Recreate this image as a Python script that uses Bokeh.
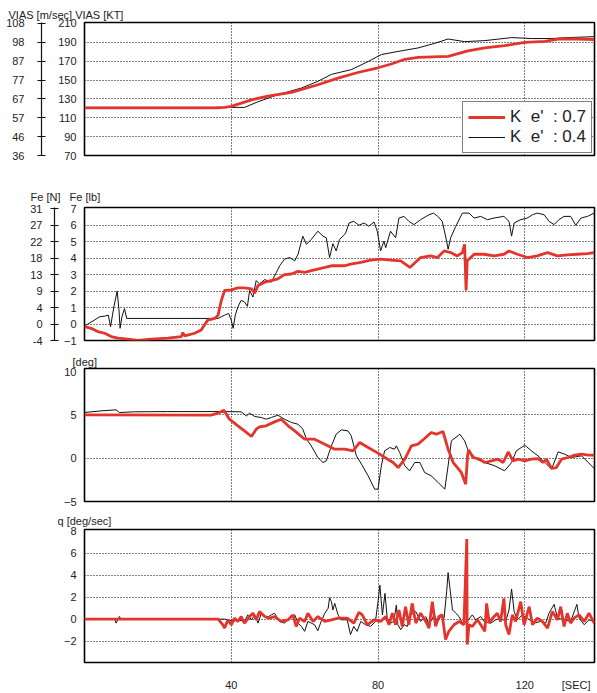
from bokeh.plotting import figure
from bokeh.layouts import column
from bokeh.models import LinearAxis, FixedTicker, Range1d, Title, Legend, LegendItem, Grid
from bokeh.embed import file_html
from bokeh.resources import INLINE

FONT = "Liberation Sans"
RED = "#e3352b"
BLACK = "#111111"
TXT = "#222222"

# ---------------- data ----------------
# Panel 1 : VIAS [KT]
VIAS_T_07 = [0, 10, 20, 30, 36, 38.2, 40, 45.5, 50, 56.4, 63.6, 69.1, 74.5, 80, 83.6, 87.3, 90.9, 99.1, 104.5, 109.1, 114.5, 120, 125.5, 129.1, 134, 139]
VIAS_KT_07 = [120.5, 120.5, 120.5, 120.5, 120.6, 121, 122, 129, 133, 137, 145, 152, 158, 163, 167, 172, 174, 175, 181, 184, 186.5, 190, 191, 193.5, 193.5, 193]
VIAS_T_04 = [0, 10, 20, 30, 38.2, 43.6, 47.3, 52.7, 59.1, 63.6, 67.3, 72.7, 77.3, 80.9, 86.4, 90.9, 95.5, 99.1, 103.6, 109.1, 116.4, 121.8, 127.3, 131.8, 139]
VIAS_KT_04 = [121, 121, 121, 121, 121, 121, 127, 134.5, 141.5, 148.6, 156, 161, 169.6, 177, 181, 184, 189, 193.5, 190.7, 191.8, 195, 194, 194, 195, 196]
VIAS_KT_TICKS = [70, 90, 110, 130, 150, 170, 190, 210]
VIAS_MS_LABELS = ["36", "46", "57", "67", "77", "87", "98", "108"]

# Panel 2 : Fe [lb]
FE_T_04 = [0, 0.9, 2.7, 4.1, 5.5, 6.5, 7.1, 8.0, 8.9, 9.4, 9.7, 10.2, 10.9, 11.5, 36.4, 37.3, 38.2, 39.3, 40.0, 40.5, 41.1, 41.8, 42.7, 43.6, 44.4, 45.0, 45.9, 46.8, 47.7, 49.1, 50.9, 52.3, 53.2, 54.5, 55.9, 57.3, 58.2, 59.5, 60.5, 61.8, 63.6, 65.0, 65.9, 66.8, 67.7, 68.6, 69.5, 70.9,
           71.2, 72.1, 73.4, 74.8, 76.2, 77.5, 78.9, 79.8, 80.7, 81.6, 82.1, 83.4, 84.8, 85.7, 87.1, 88.4, 89.8, 91.6, 93.9, 95.1, 96.3, 97.5, 98.7, 99.1, 99.8, 101.2, 103.0, 104.8, 106.2, 108.0, 109.8, 111.6, 114.3, 115.7, 116.4, 117.1, 118.9, 120.7, 122.1, 123.4, 125.3, 126.6, 128.0, 129.3, 130.7, 132.5, 133.9, 135.3, 137.1, 138.9]
FE_LB_04 = [-0.12, 0.0, 0.24, 0.44, 0.48, 0.54, -0.16, 1.04, 2.0, 0.84, -0.26, 0.44, 0.94, 0.34, 0.34, 0.44, 0.54, 0.64, 0.24, -0.26, 0.54, 1.04, 1.44, 1.34, 1.08, 2.04, 1.64, 2.64, 2.44, 2.7, 2.54, 3.14, 3.54, 3.94, 4.04, 3.84, 4.24, 5.34, 4.84, 5.14, 5.64, 5.34, 5.24, 4.04, 4.88, 4.44, 5.14, 5.44,
            5.54, 6.14, 6.24, 6.0, 6.14, 5.94, 6.2, 5.64, 4.44, 5.04, 4.64, 5.64, 5.24, 6.44, 6.54, 6.24, 6.04, 6.34, 6.64, 6.74, 6.54, 6.24, 5.04, 4.54, 5.24, 5.94, 6.74, 6.74, 6.44, 6.54, 6.34, 6.44, 6.54, 6.24, 5.34, 6.14, 6.34, 6.44, 6.64, 6.74, 6.64, 6.24, 6.04, 6.34, 6.54, 6.54, 6.0, 6.44, 6.54, 6.74]
FE_T_07 = [0, 1.8, 3.6, 5.5, 7.3, 9.1, 11.8, 14.5, 18.2, 22.7, 26.4, 26.8, 27.3, 30.0, 31.8, 33.6, 35.5, 36.4, 37.3, 38.2, 40.0, 41.8, 43.6, 45.5, 46.4, 47.3, 49.1, 50.9, 52.7, 54.5, 56.4, 58.2, 60.0, 61.8, 63.6, 65.5, 67.3, 70.9,
           72.5, 75.3, 78.0, 80.7, 83.4, 86.2, 88.7, 91.6, 94.3, 96.2, 98.0, 99.8, 101.6, 103.0, 103.6, 104.0, 104.3, 106.2, 108.9, 111.6, 114.3, 115.7, 118.0, 120.7, 123.4, 126.2, 128.9, 131.6, 134.3, 137.1, 138.9]
FE_LB_07 = [-0.16, -0.26, -0.46, -0.56, -0.76, -0.86, -0.92, -1.0, -0.92, -0.86, -0.76, -0.52, -0.72, -0.56, -0.36, 0.24, 0.34, 0.54, 1.44, 2.04, 2.08, 2.2, 2.2, 2.14, 1.88, 2.34, 2.54, 2.64, 2.74, 3.0, 3.04, 3.2, 3.14, 3.24, 3.34, 3.44, 3.54, 3.54,
            3.64, 3.74, 3.88, 3.94, 3.88, 3.84, 3.44, 4.04, 4.14, 4.04, 4.44, 4.34, 4.14, 4.34, 4.84, 2.04, 3.84, 4.24, 4.24, 4.14, 4.24, 4.44, 4.24, 4.04, 4.14, 4.34, 4.14, 4.2, 4.24, 4.28, 4.34]
FE_LB_TICKS = [-1, 0, 1, 2, 3, 4, 5, 6, 7]
FE_N_LABELS = ["-4", "0", "4", "9", "13", "18", "22", "27", "31"]

# Panel 3 : pitch attitude [deg]
TH_T_04 = [0, 4.5, 8.6, 9.5, 13.6, 22.7, 31.8, 38.2, 42.7, 44.1, 45.0, 46.4, 48.2, 49.5, 50.9, 52.7, 54.5, 56.4, 58.2, 59.5, 60.5, 61.8, 63.6, 65.0, 65.9, 67.3, 68.6, 70.0, 71.8, 72.7, 74.1, 75.5, 77.3, 79.1, 80.0, 80.9, 81.8, 83.2, 84.5, 85.0, 85.9, 87.3, 88.6, 90.0, 91.4, 92.7, 94.5, 96.4, 98.2, 99.1, 100.0, 102.3, 103.6, 104.5, 106.8, 109.1, 111.8, 114.5, 116.4, 117.7, 120.0, 121.8, 123.6, 125.5, 127.3, 129.1, 130.9, 132.7, 135.5, 137.3, 139.1]
TH_DEG_04 = [5.27, 5.46, 5.58, 5.27, 5.35, 5.38, 5.38, 5.38, 5.35, 4.88, 5.19, 4.81, 4.69, 4.5, 4.69, 4.96, 4.5, 4.12, 3.92, 3.35, 2.19, 1.42, 0.08, -0.5, -0.31, 1.42, 2.77, 3.27, 3.15, 2.58, 0.27, -0.69, -2.04, -3.58, -3.58, -0.88, 0.85, 1.23, 1.04, 1.42, 0.65, -0.88, -1.46, -0.5, -0.5, -1.65, -2.04, -2.81, -3.58, -0.88, 2.0, 2.77, 2.0, 0.96, -0.12, -0.5, -0.88, -1.46, -0.5, 0.85, 1.5, 0.85, 0.27, -0.5, -1.27, 0.73, 0.46, 0.08, 0.27, -0.5, -1.27]
TH_T_07 = [0, 34.5, 36.4, 38.0, 39.5, 41.8, 43.6, 45.5, 46.8, 47.7, 49.5, 51.8, 53.6, 55.5, 57.3, 60.0, 62.7, 65.5, 68.2, 70.9, 73.2, 75.0, 77.3, 80.0, 82.3, 84.1, 85.5, 87.3, 89.1, 90.9, 92.7, 94.5, 95.9, 97.7, 99.1, 100.5, 102.7, 103.9, 104.4, 104.7, 105.9, 107.7, 109.1, 110.9, 112.7, 114.1, 115.5, 116.8, 118.2, 120.0, 121.8, 123.6, 125.0, 125.9, 127.3, 128.6, 130.0, 131.8, 133.6, 135.5, 137.3, 139.1]
TH_DEG_07 = [5.0, 4.96, 5.19, 5.54, 4.5, 3.73, 3.15, 2.5, 3.35, 3.62, 3.73, 4.19, 4.5, 3.73, 3.15, 2.19, 2.19, 1.62, 1.04, 1.04, 0.85, 1.81, 1.23, 0.58, -0.04, -0.5, -1.08, -0.12, 1.42, 1.62, 2.27, 2.96, 2.77, 3.08, 1.04, -0.5, -1.65, -3.0, 0.27, 0.96, 0.08, -0.12, -0.5, -0.31, -0.12, -0.5, 0.73, -0.31, -0.12, -0.31, -0.12, -0.04, -0.5, -0.12, -1.19, -1.08, -0.12, 0.08, 0.35, 0.46, 0.35, 0.35]
TH_TICKS = [-5, 0, 5, 10]

# Panel 4 : pitch rate q [deg/sec]
Q_T_04 = [0, 8.2, 8.6, 9.1, 9.5, 10.0, 38.2, 39.1, 40.5, 41.8, 43.6, 44.5, 45.5, 46.4, 47.3, 48.2, 49.5, 50.9, 51.8, 53.2, 54.5, 55.9, 57.3, 58.2, 59.1, 60.0, 60.9, 61.8, 62.7, 63.6, 64.5, 65.5, 66.4, 66.8, 67.3, 67.7, 68.2, 69.1, 70.0,
          71.6, 72.5, 73.4, 74.3, 75.3, 76.6, 78.0, 79.3, 80.0, 80.5, 81.2, 81.9, 82.5, 83.4, 84.3, 85.0, 85.4, 86.2, 87.1, 88.0, 88.9, 90.3, 91.6, 93.0, 93.9, 95.3, 96.2, 97.1, 98.0, 98.7, 99.1, 99.6, 100.3, 101.2, 102.1, 103.0, 104.3, 105.7, 106.6, 108.0, 108.9, 110.7, 112.1, 113.4, 114.8, 115.7, 116.4, 117.1, 118.0, 119.3, 120.7, 122.5, 124.3, 125.7, 126.6, 128.0, 128.9, 130.7, 132.5, 134.2, 134.8, 136.2, 137.5, 138.9]
Q_DPS_04 = [0, 0, -0.36, -0.06, 0.24, 0, 0, -0.06, -0.21, -0.06, -0.21, 0.39, -0.06, 0.39, -0.36, 0.54, 0.09, 0.39, 0.54, -0.21, -0.36, 0.09, 0.39, -0.36, -0.66, -1.11, -0.21, -0.36, -0.51, -1.05, -0.21, 0.54, 0.99, 1.95, 1.59, 0.84, 1.44, 0.39, -0.06,
            -0.06, -1.41, -0.66, -1.11, -0.21, -0.51, -0.66, -0.21, 1.59, 3.1, 0.39, 2.35, 0.09, -0.36, -0.21, 1.29, -0.51, -0.96, -0.51, -0.66, 0.39, 0.69, -0.21, 0.24, -0.51, 0.39, -0.21, 0.24, 0.09, 2.5, 4.24, 2.8, 0.84, 0.54, 0.24, -0.36, -0.21, 0.39, -0.06, 0.24, -0.21, -0.36, -0.06, 0.09, -0.21, 0.84, 2.74, 0.69, -0.06, 0.39, 0.09, -0.36, -0.21, -0.36, 0.54, 1.35, 0.09, -0.06, -0.21, 1.35, 0.09, -0.51, -0.06, -0.21]
Q_T_07 = [0, 36.4, 37.7, 38.2, 39.1, 40.0, 40.9, 41.8, 42.7, 43.6, 45.0, 45.9, 46.8, 47.7, 49.1, 50.5, 51.8, 53.6, 55.5, 56.8, 57.7, 58.6, 60.0, 60.9, 62.3, 63.6, 65.5, 67.3, 69.1,
          71.6, 73.4, 74.8, 75.7, 77.1, 78.9, 80.7, 82.1, 83.0, 83.9, 84.8, 85.7, 86.6, 87.5, 88.4, 89.3, 90.3, 91.6, 93.0, 93.9, 94.8, 95.7, 96.6, 97.5, 98.4, 99.3, 100.7, 102.1, 103.4, 104.2, 104.3, 104.8, 105.7, 107.1, 108.0, 109.1, 109.6, 110.3, 111.2, 112.5, 113.4, 114.3, 114.8, 115.7, 116.6, 117.5, 118.9, 119.8, 121.2, 122.1, 123.4, 124.8, 126.2, 127.5, 128.9, 129.8, 130.7, 131.6, 132.5, 133.4, 134.8, 136.2, 137.5, 138.9]
Q_DPS_07 = [0, 0, -0.51, -0.81, -0.06, -0.51, 0.09, -0.21, 0.24, -0.36, 0.24, 0.54, -0.06, 0.69, 0.24, 0.09, 0.24, -0.21, -0.06, 0.39, -0.66, 0.09, -0.21, 0.54, -0.21, 0.24, -0.21, -0.06, 0.09,
            0.09, -0.36, 0.63, 0.39, -0.51, -0.06, -0.21, 0.24, -0.51, 0.54, -0.51, 0.84, -0.66, 1.14, -0.51, 1.44, -0.36, 0.54, -0.21, -0.81, 1.59, -0.66, 0.24, 0.39, -1.86, -1.11, -0.51, -0.21, -0.51, 7.31, -2.32, -0.51, -0.66, -0.06, -0.51, -1.11, 1.44, -0.36, 0.09, 0.54, -0.21, 1.89, -0.51, -1.41, 0.39, -0.21, 1.59, -0.51, 1.14, -0.51, 0.09, -0.21, -0.81, 0.69, -0.06, 1.14, -0.66, 0.54, -0.36, 0.09, 0.39, -0.21, 0.54, -0.36]
Q_TICKS = [-4, -2, 0, 2, 4, 6, 8]

X_GRID = [40, 80, 120]
X_TICKS = [40, 80, 120, 134]
X_LABELS = {134: "[SEC]"}


def make_fig(height, top, bottom, ylo, yhi, yticks, grid_ticks):
    p = figure(width=597, height=height, x_range=Range1d(0, 139), y_range=Range1d(ylo, yhi),
               output_backend="svg", toolbar_location=None,
               x_axis_location=None, y_axis_location=None,
               min_border_left=84, min_border_right=3, min_border_top=top, min_border_bottom=bottom)
    p.center = []
    p.outline_line_color = "black"
    p.outline_line_width = 1.6
    p.background_fill_color = "white"
    p.border_fill_color = "white"
    p.add_layout(Grid(dimension=0, ticker=FixedTicker(ticks=X_GRID), grid_line_color="black",
                      grid_line_dash="1 2", grid_line_width=1), "center")
    p.add_layout(Grid(dimension=1, ticker=FixedTicker(ticks=grid_ticks), grid_line_color="black",
                      grid_line_dash="1 2", grid_line_width=1), "center")
    inner = LinearAxis(ticker=FixedTicker(ticks=yticks), axis_line_color=None,
                       major_tick_line_color=None, minor_tick_line_color=None,
                       major_tick_in=0, major_tick_out=0, major_label_standoff=8,
                       major_label_text_font=FONT, major_label_text_font_size="11px",
                       major_label_text_color=TXT)
    p.add_layout(inner, "left")
    return p, inner


def second_axis(p, inner, ticks, labels, pad, standoff):
    inner.axis_label = "\u00a0"
    inner.axis_label_text_font_size = "%dpx" % pad
    inner.axis_label_standoff = 0
    outer = LinearAxis(ticker=FixedTicker(ticks=ticks),
                       major_label_overrides={t: s for t, s in zip(ticks, labels)},
                       axis_line_color="#111111", axis_line_width=1.2,
                       major_tick_line_color="#111111", major_tick_line_width=1.2,
                       major_tick_in=4, major_tick_out=4, minor_tick_line_color=None,
                       major_label_standoff=standoff,
                       major_label_text_font=FONT, major_label_text_font_size="11px",
                       major_label_text_color=TXT)
    p.add_layout(outer, "left")


def header(p, text, offset, standoff):
    p.add_layout(Title(text=text, align="left", offset=offset, standoff=standoff,
                       text_font=FONT, text_font_size="11px", text_font_style="normal",
                       text_color=TXT), "above")


# ---- panel 1
p1, in1 = make_fig(183, 22, 28, 70, 211, VIAS_KT_TICKS, VIAS_KT_TICKS[1:-1])
second_axis(p1, in1, VIAS_KT_TICKS, VIAS_MS_LABELS, 10, 13)
b1 = p1.line(VIAS_T_04, VIAS_KT_04, line_color=BLACK, line_width=1)
r1 = p1.line(VIAS_T_07, VIAS_KT_07, line_color=RED, line_width=2.8)
leg = Legend(items=[LegendItem(label="K  e'  : 0.7", renderers=[r1]),
                    LegendItem(label="K  e'  : 0.4", renderers=[b1])],
             location="bottom_right", label_text_font=FONT, label_text_font_size="17px",
             label_text_color=TXT, glyph_width=37, glyph_height=18, label_height=18,
             spacing=0, padding=5, margin=2, border_line_color="black", border_line_width=1.5,
             background_fill_color="white", background_fill_alpha=1)
p1.add_layout(leg, "center")
header(p1, "VIAS [m/sec] VIAS [KT]", -76, 4)

# ---- panel 2
p2, in2 = make_fig(167, 23, 10, -1, 7.08, FE_LB_TICKS, FE_LB_TICKS[1:-1])
second_axis(p2, in2, FE_LB_TICKS, FE_N_LABELS, 3, 8)
p2.line(FE_T_04, FE_LB_04, line_color=BLACK, line_width=1)
p2.line(FE_T_07, FE_LB_07, line_color=RED, line_width=2.8)
header(p2, "Fe [N]\u00a0\u00a0\u00a0Fe [lb]", -54, 10)

# ---- panel 3
p3, in3 = make_fig(159, 18, 8, -5, 10.35, TH_TICKS, [0, 5])
p3.line(TH_T_04, TH_DEG_04, line_color=BLACK, line_width=1)
p3.line(TH_T_07, TH_DEG_07, line_color=RED, line_width=2.8)
header(p3, "[deg]", -12, 2)

# ---- panel 4
p4, in4 = make_fig(184, 19, 31, -3.95, 8.17, Q_TICKS, [-2, 0, 2, 4, 6])
p4.line(Q_T_04, Q_DPS_04, line_color=BLACK, line_width=1)
p4.line(Q_T_07, Q_DPS_07, line_color=RED, line_width=2.8)
header(p4, "q [deg/sec]", -27, 6)
xax = LinearAxis(ticker=FixedTicker(ticks=X_TICKS), major_label_overrides=X_LABELS,
                 axis_line_color=None, major_tick_line_color=None, minor_tick_line_color=None,
                 major_tick_in=0, major_tick_out=0, major_label_standoff=16,
                 major_label_text_font=FONT, major_label_text_font_size="11px",
                 major_label_text_color=TXT)
p4.add_layout(xax, "below")

layout = column(p1, p2, p3, p4, spacing=0)
open("out.html", "w").write(file_html(layout, INLINE))
